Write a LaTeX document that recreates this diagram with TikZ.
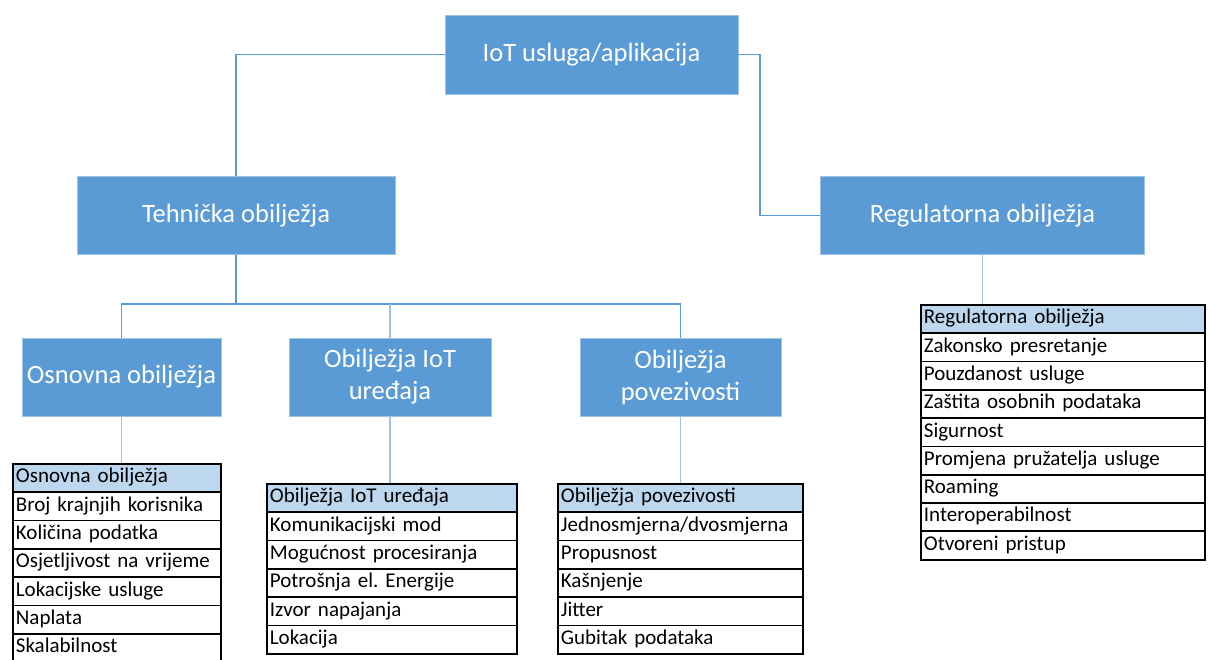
\documentclass[tikz,border=0pt]{standalone}
\usepackage{fontspec}
\setmainfont{Carlito}
\frenchspacing
\definecolor{boxblue}{HTML}{5B9BD5}
\definecolor{lineblue}{HTML}{5B9BD5}
\definecolor{lightline}{HTML}{9DC3E6}
\definecolor{headfill}{HTML}{BDD7EE}
\tikzset{
  bluebox/.style={fill=boxblue, draw=lightline, line width=0.6pt, text=white,
    font=\fontsize{26.5}{32}\selectfont, align=center, inner sep=0pt},
  conn/.style={draw=lineblue, line width=1.1pt},
  connlight/.style={draw=lightline, line width=1.3pt},
  rowcell/.style={draw=black, line width=1.8pt, anchor=north west, inner xsep=3pt, inner ysep=0pt,
    minimum height=28.3pt, text height=14pt, text depth=4.5pt,
    font=\fontsize{21}{24}\selectfont, align=left},
  headcell/.style={rowcell, fill=headfill},
}
\newcommand\mktable[5]{% name, x, y, width, list
  \foreach \t [count=\i from 0] in {#5} {
    \ifnum\i=0
      \node[headcell, minimum width=#4pt, text width=#4pt-6pt] (#1\i) at (#2,#3+\i*28.3) {\t};
    \else
      \node[rowcell, minimum width=#4pt, text width=#4pt-6pt] (#1\i) at (#2,#3+\i*28.3) {\t};
    \fi
  }
}
\begin{document}
\begin{tikzpicture}[x=1pt,y=-1pt]
\useasboundingbox (0,0) rectangle (1208,659);
% boxes
\node[bluebox, minimum width=293pt, minimum height=79pt] (top) at (591.5,54.5) {IoT usluga/aplikacija};
\node[bluebox, minimum width=318pt, minimum height=78pt] (tech) at (236,215.5) {Tehnička obilježja};
\node[bluebox, minimum width=324pt, minimum height=78pt] (reg) at (982.5,215.5) {Regulatorna obilježja};
\node[bluebox, minimum width=199pt, minimum height=78pt] (osn) at (121.5,377) {Osnovna obilježja};
\node[bluebox, minimum width=202pt, minimum height=78pt] (iot) at (390,377) {Obilježja IoT\\uređaja};
\node[bluebox, minimum width=201pt, minimum height=78pt] (pov) at (680.5,377) {Obilježja\\povezivosti};
% tables
\mktable{o}{12}{463}{208}{Osnovna obilježja,Broj krajnjih korisnika,Količina podatka,Osjetljivost na vrijeme,Lokacijske usluge,Naplata,Skalabilnost}
\mktable{i}{266}{483}{250}{Obilježja IoT uređaja,Komunikacijski mod,Mogućnost procesiranja,Potrošnja el. Energije,Izvor napajanja,Lokacija}
\mktable{p}{557}{483}{245}{Obilježja povezivosti,Jednosmjerna/dvosmjerna,Propusnost,Kašnjenje,Jitter,Gubitak podataka}
\mktable{r}{920}{304}{284}{Regulatorna obilježja,Zakonsko presretanje,Pouzdanost usluge,Zaštita osobnih podataka,Sigurnost,Promjena pružatelja usluge,Roaming,Interoperabilnost,Otvoreni pristup}
% connectors
\coordinate (rbend) at (760,54.5);
\coordinate (bus) at (236,304);
\draw[conn] (top.west) -| (tech.north);
\draw[conn] (top.east) -- (rbend) |- (reg.west);
\draw[conn] (tech.south) -- (bus);
\draw[conn] (osn.north) |- (bus) -| (pov.north);
\draw[connlight] (iot.north) -- (iot.north |- bus);
\draw[connlight] (osn.south) -- (osn.south |- o0.north);
\draw[connlight] (iot.south) -- (iot.south |- i0.north);
\draw[connlight] (pov.south) -- (pov.south |- p0.north);
\draw[connlight] (reg.south) -- (reg.south |- r0.north);
\end{tikzpicture}
\end{document}
